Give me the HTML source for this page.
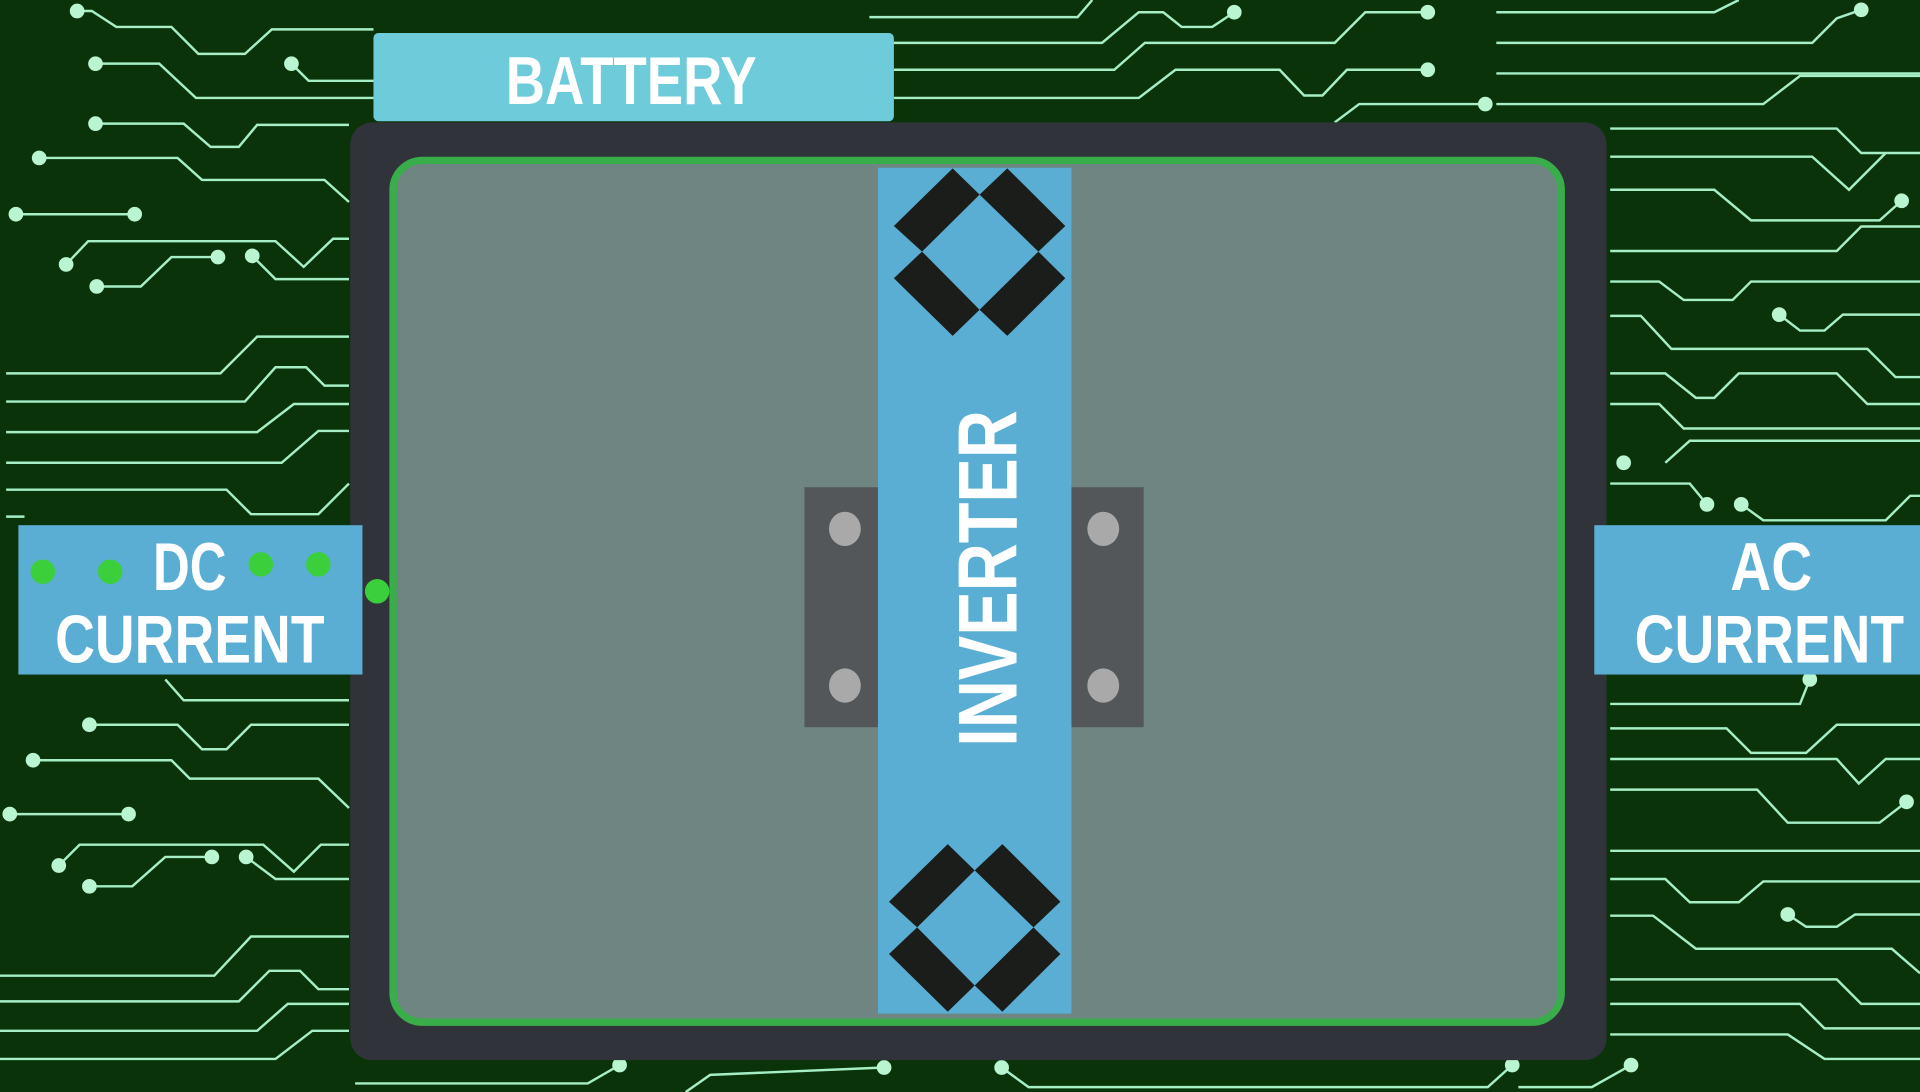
<!DOCTYPE html>
<html><head><meta charset="utf-8"><style>
html,body{margin:0;padding:0;background:#0b3309;}
svg{display:block}
text{font-family:"Liberation Sans",sans-serif;font-weight:bold;fill:#fff}
</style></head><body>
<svg width="1920" height="1092" viewBox="0 0 1568 892" preserveAspectRatio="none" xmlns="http://www.w3.org/2000/svg">
<rect width="1568" height="892" fill="#0b3309"/>
<g fill="none" stroke="#a6efc6" stroke-width="2">
<polyline points="63,9 75,9 95,22 140,22 162,44 200,44 222,24 305,24"/>
<polyline points="78,52 130,52 160,80 305,80"/>
<polyline points="78,101 150,101 172,120 195,120 210,102 285,102"/>
<polyline points="32,129 145,129 165,147 265,147 285,165"/>
<polyline points="13,175 110,175"/>
<polyline points="54,216 72,197 225,197 248,218 272,195 285,195"/>
<polyline points="79,234 115,234 140,210 178,210"/>
<polyline points="206,209 225,228 285,228"/>
<polyline points="238,52 252,66 305,66"/>
<polyline points="5,305 180,305 210,275 285,275"/>
<polyline points="5,328 200,328 225,300 250,300 265,315 285,315"/>
<polyline points="5,353 210,353 240,330 285,330"/>
<polyline points="5,378 230,378 260,352 285,352"/>
<polyline points="5,400 185,400 205,420 260,420 285,395"/>
<polyline points="5,422 20,422"/>
<polyline points="135,555 150,572 285,572"/>
<polyline points="73,592 145,592 165,612 185,612 205,592 285,592"/>
<polyline points="27,621 140,621 155,636 260,636 285,660"/>
<polyline points="8,665 105,665"/>
<polyline points="48,707 65,690 215,690 240,712 262,690 285,690"/>
<polyline points="73,724 108,724 135,700 173,700"/>
<polyline points="201,700 225,718 285,718"/>
<polyline points="0,797 175,797 205,765 285,765"/>
<polyline points="0,818 195,818 220,793 245,793 260,808 285,808"/>
<polyline points="0,842 210,842 235,820 285,820"/>
<polyline points="0,865 225,865 255,842 285,842"/>
<polyline points="290,885 480,885 506,870"/>
<polyline points="560,892 580,878 722,872"/>
<polyline points="818,872 840,888 1215,888 1235,870"/>
<polyline points="1332,870 1300,888 1240,888"/>
<polyline points="710,14 880,14 892,0"/>
<polyline points="710,35 900,35 930,10 950,10 965,22 990,22 1008,10"/>
<polyline points="730,57 910,57 935,35 1090,35 1115,10 1166,10"/>
<polyline points="730,80 930,80 960,57 1045,57 1065,78 1080,78 1100,57 1166,57"/>
<polyline points="1090,100 1110,85 1213,85"/>
<polyline points="1222,10 1400,10 1420,0"/>
<polyline points="1222,35 1480,35 1500,15 1520,8"/>
<polyline points="1222,60 1568,60"/>
<polyline points="1222,85 1440,85 1470,62 1568,62"/>
<polyline points="1315,105 1500,105 1520,125 1568,125"/>
<polyline points="1315,128 1480,128 1510,155 1540,125"/>
<polyline points="1315,155 1400,155 1430,180 1535,180 1553,164"/>
<polyline points="1315,205 1500,205 1520,185 1568,185"/>
<polyline points="1315,230 1355,230 1375,245 1415,245 1430,230 1568,230"/>
<polyline points="1453,257 1470,270 1490,270 1505,257 1568,257"/>
<polyline points="1315,258 1340,258 1365,285 1525,285 1548,308 1568,308"/>
<polyline points="1315,305 1360,305 1385,325 1400,325 1420,305 1500,305 1525,330 1568,330"/>
<polyline points="1315,330 1355,330 1375,350 1568,350"/>
<polyline points="1360,378 1380,360 1568,360"/>
<polyline points="1394,412 1380,395 1315,395"/>
<polyline points="1422,412 1440,425 1540,425 1560,405 1568,405"/>
<polyline points="1315,575 1470,575 1478,555"/>
<polyline points="1315,595 1410,595 1430,615 1475,615 1500,592 1568,592"/>
<polyline points="1315,620 1500,620 1518,640 1540,620 1568,620"/>
<polyline points="1315,645 1435,645 1460,672 1535,672 1557,655"/>
<polyline points="1315,695 1568,695"/>
<polyline points="1315,718 1360,718 1380,737 1420,737 1440,720 1568,720"/>
<polyline points="1460,747 1475,757 1500,757 1515,747 1568,747"/>
<polyline points="1315,748 1350,748 1385,775 1545,775 1568,795"/>
<polyline points="1315,800 1500,800 1520,820 1568,820"/>
<polyline points="1315,820 1470,820 1490,840 1568,840"/>
<polyline points="1315,845 1460,845 1490,865 1568,865"/>
</g>
<g fill="#b8f5d0">
<circle cx="63" cy="9" r="6"/><circle cx="78" cy="52" r="6"/><circle cx="238" cy="52" r="6"/>
<circle cx="78" cy="101" r="6"/><circle cx="32" cy="129" r="6"/><circle cx="13" cy="175" r="6"/>
<circle cx="110" cy="175" r="6"/><circle cx="54" cy="216" r="6"/><circle cx="79" cy="234" r="6"/>
<circle cx="178" cy="210" r="6"/><circle cx="206" cy="209" r="6"/>
<circle cx="73" cy="592" r="6"/><circle cx="27" cy="621" r="6"/><circle cx="8" cy="665" r="6"/>
<circle cx="105" cy="665" r="6"/><circle cx="48" cy="707" r="6"/><circle cx="73" cy="724" r="6"/>
<circle cx="173" cy="700" r="6"/><circle cx="201" cy="700" r="6"/>
<circle cx="506" cy="870" r="6"/><circle cx="722" cy="872" r="6"/><circle cx="818" cy="872" r="6"/>
<circle cx="1235" cy="870" r="6"/><circle cx="1332" cy="870" r="6"/>
<circle cx="1008" cy="10" r="6"/><circle cx="1166" cy="10" r="6"/><circle cx="1166" cy="57" r="6"/>
<circle cx="1213" cy="85" r="6"/><circle cx="1520" cy="8" r="6"/><circle cx="1553" cy="164" r="6"/>
<circle cx="1453" cy="257" r="6"/><circle cx="1326" cy="378" r="6"/><circle cx="1394" cy="412" r="6"/>
<circle cx="1422" cy="412" r="6"/><circle cx="1478" cy="555" r="6"/><circle cx="1557" cy="655" r="6"/>
<circle cx="1460" cy="747" r="6"/>
</g>
<rect x="305" y="27" width="425" height="72" rx="4" fill="#6ecbd9"/>
<text x="413" y="85" font-size="55" textLength="205" lengthAdjust="spacingAndGlyphs">BATTERY</text>
<rect x="286" y="100" width="1026" height="766" rx="18" fill="#30343a"/>
<rect x="321" y="131" width="954" height="704" rx="24" fill="#6e8582" stroke="#39ad4a" stroke-width="6"/>
<rect x="657" y="398" width="62" height="196" fill="#53575a"/>
<rect x="873" y="398" width="61" height="196" fill="#53575a"/>
<g fill="#a9a9a9">
<ellipse cx="690" cy="432" rx="13" ry="14"/><ellipse cx="690" cy="560" rx="13" ry="14"/>
<ellipse cx="901" cy="432" rx="13" ry="14"/><ellipse cx="901" cy="560" rx="13" ry="14"/>
</g>
<rect x="717" y="137" width="158" height="691" fill="#5aaed3"/>
<g id="dia" fill="#1b1d1b">
<polygon points="778,137.5 800,159 753,205.5 730,184.6"/>
<polygon points="822.6,137.5 870,184.6 848,205.5 800,159"/>
<polygon points="753,205.5 800,253 778,274.4 730,227.3"/>
<polygon points="848,205.5 870,227.3 822.6,274.4 800,253"/>
</g>
<use href="#dia" transform="translate(-4,552)"/>
<text transform="translate(830,610) rotate(-90)" font-size="68" textLength="275" lengthAdjust="spacingAndGlyphs">INVERTER</text>
<rect x="15" y="429" width="281" height="122" fill="#5aaed3"/>
<text x="125" y="482" font-size="55" textLength="60" lengthAdjust="spacingAndGlyphs">DC</text>
<text x="45" y="541" font-size="55" textLength="220" lengthAdjust="spacingAndGlyphs">CURRENT</text>
<g fill="#3ccf3c">
<circle cx="35" cy="467" r="10"/><circle cx="90" cy="467" r="10"/>
<circle cx="213" cy="461" r="10"/><circle cx="260" cy="461" r="10"/><circle cx="308" cy="483" r="10"/>
</g>
<rect x="1302" y="429" width="266" height="122" fill="#5aaed3"/>
<text x="1413" y="482" font-size="55" textLength="67" lengthAdjust="spacingAndGlyphs">AC</text>
<text x="1335" y="541" font-size="55" textLength="220" lengthAdjust="spacingAndGlyphs">CURRENT</text>
</svg>
</body></html>
